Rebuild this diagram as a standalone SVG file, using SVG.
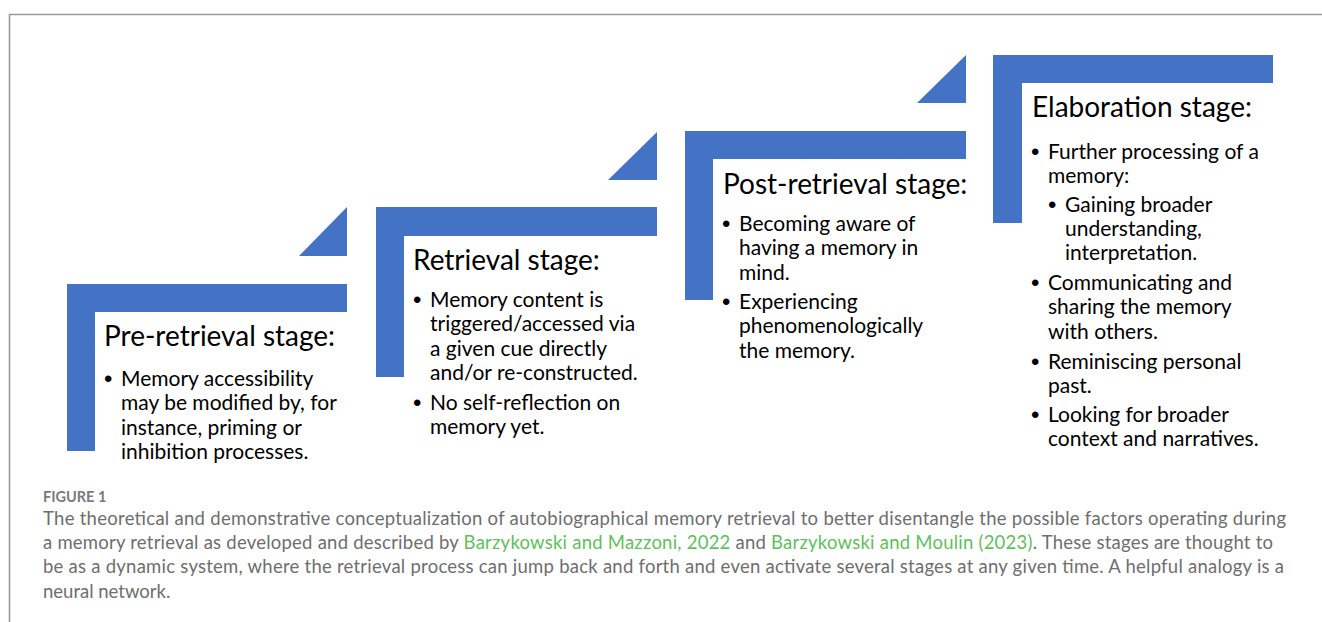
<svg xmlns="http://www.w3.org/2000/svg" width="1322" height="622" viewBox="0 0 1322 622">
<style>
.bar{fill:#4472C4}
.hd{font-family:Lato,"Liberation Sans",sans-serif;font-size:28px;fill:#000}
.tx{font-family:Lato,"Liberation Sans",sans-serif;font-size:21px;fill:#000}
.bl{font-family:"Liberation Sans",sans-serif;font-size:24px;fill:#000}
.cap{font-family:Lato,"Open Sans","Liberation Sans",sans-serif;font-size:18.5px;fill:#6e6e6e;font-weight:400}
.lnk{fill:#5fbf5c}
.fig{font-family:Lato,"Open Sans","Liberation Sans",sans-serif;font-size:14.5px;font-weight:700;fill:#7a7a7a}
.frame{stroke:#9a9a9a;stroke-width:1.6;fill:none}
</style>
<rect width="1322" height="622" fill="#fff"/>
<path class="frame" d="M9.5,622 V14.5 H1322"/>

<g id="step-markers">
<polygon class="bar" points="299,256 347,256 347,207"/>
<polygon class="bar" points="608,180 657,180 657,132"/>
<polygon class="bar" points="917,103 966,103 966,55"/>
</g>

<g id="pre-retrieval">
<path class="bar" d="M67,284 H347 V312 H95 V451 H67 Z"/>
<text class="hd" x="104" y="346">Pre-retrieval stage:</text>
<text class="bl" x="104" y="387">•</text>
<text class="tx" x="121" y="386">Memory accessibility</text>
<text class="tx" x="121" y="410">may be modified by, for</text>
<text class="tx" x="121" y="435">instance, priming or</text>
<text class="tx" x="121" y="459">inhibition processes.</text>
</g>

<g id="retrieval">
<path class="bar" d="M376,207 H657 V236 H404 V377 H376 Z"/>
<text class="hd" x="413" y="270">Retrieval stage:</text>
<text class="bl" x="413" y="308">•</text>
<text class="tx" x="430" y="307">Memory content is</text>
<text class="tx" x="430" y="331">triggered/accessed via</text>
<text class="tx" x="430" y="356">a given cue directly</text>
<text class="tx" x="430" y="380">and/or re-constructed.</text>
<text class="bl" x="413" y="411">•</text>
<text class="tx" x="430" y="410">No self-reflection on</text>
<text class="tx" x="430" y="434">memory yet.</text>
</g>

<g id="post-retrieval">
<path class="bar" d="M685,131 H966 V159 H713 V300 H685 Z"/>
<text class="hd" x="723" y="194">Post-retrieval stage:</text>
<text class="bl" x="722" y="232">•</text>
<text class="tx" x="739" y="231">Becoming aware of</text>
<text class="tx" x="739" y="255">having a memory in</text>
<text class="tx" x="739" y="280">mind.</text>
<text class="bl" x="722" y="310">•</text>
<text class="tx" x="739" y="309">Experiencing</text>
<text class="tx" x="739" y="333">phenomenologically</text>
<text class="tx" x="739" y="358">the memory.</text>
</g>

<g id="elaboration">
<path class="bar" d="M993,55 H1273 V83 H1022 V223 H993 Z"/>
<text class="hd" x="1032" y="117">Elaboration stage:</text>
<text class="bl" x="1031" y="160">•</text>
<text class="tx" x="1048" y="159">Further processing of a</text>
<text class="tx" x="1048" y="183">memory:</text>
<text class="bl" x="1048" y="213">•</text>
<text class="tx" x="1065" y="212">Gaining broader</text>
<text class="tx" x="1065" y="236">understanding,</text>
<text class="tx" x="1065" y="260">interpretation.</text>
<text class="bl" x="1031" y="291">•</text>
<text class="tx" x="1048" y="290">Communicating and</text>
<text class="tx" x="1048" y="314">sharing the memory</text>
<text class="tx" x="1048" y="339">with others.</text>
<text class="bl" x="1031" y="370">•</text>
<text class="tx" x="1048" y="369">Reminiscing personal</text>
<text class="tx" x="1048" y="393">past.</text>
<text class="bl" x="1031" y="423">•</text>
<text class="tx" x="1048" y="422">Looking for broader</text>
<text class="tx" x="1048" y="446">context and narratives.</text>
</g>

<g id="caption">
<text class="fig" x="43" y="502">FIGURE 1</text>
<text class="cap" x="43" y="525" textLength="1243" lengthAdjust="spacing">The theoretical and demonstrative conceptualization of autobiographical memory retrieval to better disentangle the possible factors operating during</text>
<text class="cap" x="43" y="549" textLength="1230" lengthAdjust="spacing">a memory retrieval as developed and described by <tspan class="lnk">Barzykowski and Mazzoni, 2022</tspan> and <tspan class="lnk">Barzykowski and Moulin (2023)</tspan>. These stages are thought to</text>
<text class="cap" x="43" y="573" textLength="1241" lengthAdjust="spacing">be as a dynamic system, where the retrieval process can jump back and forth and even activate several stages at any given time. A helpful analogy is a</text>
<text class="cap" x="43" y="598">neural network.</text>
</g>
</svg>
